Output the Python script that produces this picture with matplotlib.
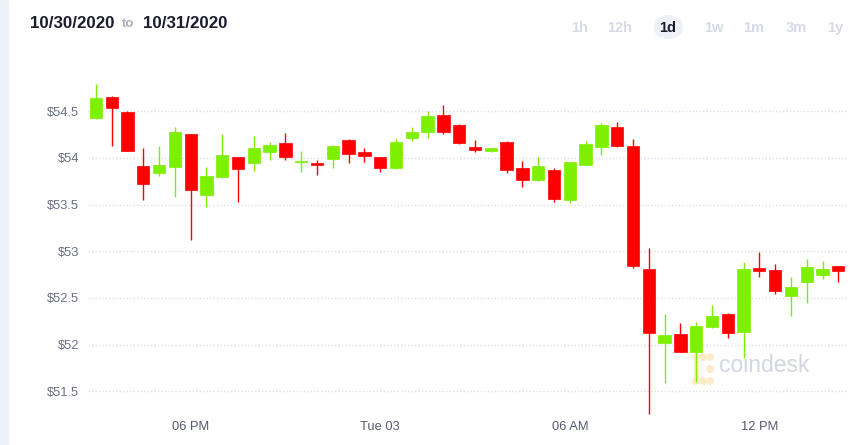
import matplotlib
matplotlib.use("Agg")
import matplotlib.pyplot as plt
from matplotlib.patches import FancyBboxPatch, Rectangle, Ellipse

plt.rcParams['font.family'] = ['Liberation Sans', 'DejaVu Sans']

# 30 min candles, 10/30 -> 10/31
opens = [54.43, 54.65, 54.49, 53.91, 53.84, 53.90, 54.26, 53.60, 53.80, 54.01,
         53.95, 54.06, 54.16, 53.96, 53.95, 53.99, 54.19, 54.06, 54.01, 53.89,
         54.21, 54.28, 54.46, 54.35, 54.12, 54.08, 54.17, 53.89, 53.76, 53.87,
         53.55, 53.93, 54.12, 54.33, 54.13, 52.81, 52.02, 52.11, 51.92, 52.19,
         52.33, 52.14, 52.82, 52.80, 52.52, 52.67, 52.75, 52.84]
highs = [54.79, 54.66, 54.50, 54.11, 54.13, 54.33, 54.26, 53.90, 54.26, 54.01,
         54.24, 54.17, 54.27, 54.08, 53.98, 54.14, 54.20, 54.11, 54.01, 54.20,
         54.33, 54.50, 54.57, 54.36, 54.19, 54.11, 54.18, 53.97, 54.01, 53.89,
         53.96, 54.18, 54.37, 54.39, 54.20, 53.04, 52.33, 52.23, 52.24, 52.42,
         52.34, 52.89, 52.99, 52.86, 52.73, 52.92, 52.90, 52.84]
lows = [54.42, 54.13, 54.08, 53.55, 53.81, 53.58, 53.12, 53.48, 53.79, 53.53,
        53.86, 53.98, 53.98, 53.85, 53.82, 53.89, 53.95, 53.96, 53.85, 53.88,
        54.18, 54.21, 54.26, 54.15, 54.06, 54.06, 53.84, 53.69, 53.75, 53.53,
        53.52, 53.92, 54.03, 54.12, 52.82, 51.26, 51.59, 51.92, 51.60, 52.18,
        52.07, 51.86, 52.73, 52.54, 52.31, 52.45, 52.70, 52.67]
closes = [54.64, 54.54, 54.08, 53.72, 53.92, 54.28, 53.66, 53.81, 54.03, 53.88,
          54.11, 54.14, 54.01, 53.97, 53.92, 54.13, 54.04, 54.02, 53.89, 54.17,
          54.28, 54.45, 54.28, 54.16, 54.09, 54.11, 53.87, 53.76, 53.91, 53.56,
          53.96, 54.15, 54.35, 54.13, 52.84, 52.12, 52.10, 51.92, 52.20, 52.31,
          52.12, 52.81, 52.79, 52.57, 52.62, 52.83, 52.81, 52.79]

tick_idx = [6, 18, 30, 42]
tick_text = ["06 PM", "Tue 03", "06 AM", "12 PM"]
y_ticks = [51.5, 52, 52.5, 53, 53.5, 54, 54.5]
ranges = ["1h", "12h", "1d", "1w", "1m", "3m", "1y"]

W, H = 862, 445
fig = plt.figure(figsize=(W / 100, H / 100), dpi=100)
fig.patch.set_facecolor("white")

# left strip of the page
fig.patches.append(Rectangle((0, 0), 8 / W, 1, transform=fig.transFigure,
                             color="#eef2f8", zorder=0))

ax = fig.add_axes([88 / W, (H - 418) / H, (847 - 88) / W, (418 - 75) / H])
ax.set_xlim(-0.5, 47.55)
ax.set_ylim(51.214, 54.889)

up = "#7df000"
down = "#ff0000"
for i in range(len(opens)):
    o, h, l, c = opens[i], highs[i], lows[i], closes[i]
    col = up if c >= o else down
    ax.vlines(i, l, h, color=col, linewidth=1, zorder=3)
    bot = min(o, c)
    hgt = max(abs(c - o), 0.012)
    ax.bar(i, hgt, bottom=bot, width=0.78, color=col, edgecolor=col,
           linewidth=0.5, zorder=4)

ax.set_yticks(y_ticks)
ax.set_yticklabels(["$" + ("%g" % v) for v in y_ticks])
ax.set_xticks(tick_idx)
ax.set_xticklabels(tick_text)
ax.tick_params(axis="y", length=0, pad=6.5, labelsize=9.3, labelcolor="#6a7083")
ax.tick_params(axis="x", length=0, pad=2.5, labelsize=9.3, labelcolor="#555b6e")
ax.grid(axis="y", linestyle=(0, (1, 1.5)), color="#d9dfeb", linewidth=1, zorder=0)
for s in ax.spines.values():
    s.set_visible(False)

# watermark, behind the candles
ax.text(719 / W, 1 - 366 / H, "coindesk", fontsize=16.5, color="#d3d6de",
        va="center", ha="left", transform=fig.transFigure, zorder=1)
ax.add_patch(Rectangle((694 / W, 1 - 380 / H), 4.5 / W, 25 / H,
                       transform=fig.transFigure, color="#fdebc8", zorder=1))
for dx, dy in [(0, 0), (7, 0), (14, 0), (0, 24), (7, 24), (14, 24), (14, 12)]:
    ax.add_patch(Ellipse(((696 + dx) / W, 1 - (357 + dy) / H), 6.5 / W, 6.5 / H,
                         transform=fig.transFigure, color="#fdebc8", zorder=1))

# header
fig.text(30 / W, 1 - 23 / H, "10/30/2020", fontsize=12.2, fontweight="bold",
         color="#1c1d2e", va="center", ha="left")
fig.text(122 / W, 1 - 24 / H, "to", fontsize=9.5, fontweight="bold",
         color="#a9b0bf", va="center", ha="left")
fig.text(143 / W, 1 - 23 / H, "10/31/2020", fontsize=12.2, fontweight="bold",
         color="#1c1d2e", va="center", ha="left")

btn_x = [580, 620, 668, 714, 754, 796, 835]
fig.patches.append(FancyBboxPatch((655 / W, 1 - 38 / H), 27 / W, 22 / H,
                                  boxstyle="round,pad=0,rounding_size=0.02",
                                  transform=fig.transFigure,
                                  color="#eef2f8", zorder=1))
for x, r in zip(btn_x, ranges):
    col = "#1c1d2e" if r == "1d" else "#d6dae4"
    fig.text(x / W, 1 - 28 / H, r, fontsize=10.5, fontweight="bold",
             color=col, va="center", ha="center", zorder=2)

fig.savefig("out.png", dpi=100)
